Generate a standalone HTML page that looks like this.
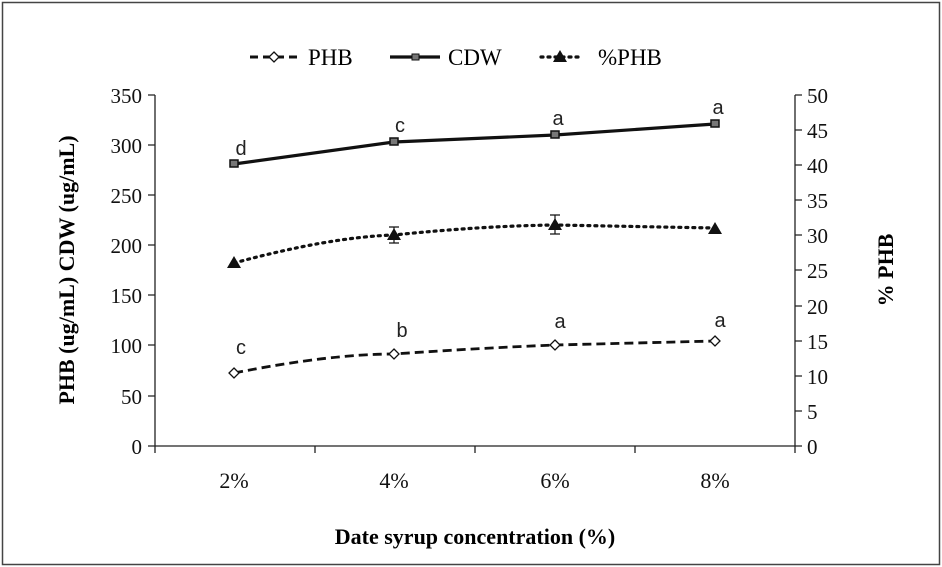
<!DOCTYPE html><html><head><style>body{margin:0;background:#fff}svg{display:block}</style></head><body>
<svg width="942" height="567" xmlns="http://www.w3.org/2000/svg" font-family="Liberation Serif, serif">
<rect x="2.5" y="2.5" width="937" height="562" fill="none" stroke="#444" stroke-width="1.5"/>
<g stroke="#222" stroke-width="1.3" fill="none">
<line x1="155" y1="95" x2="155" y2="446"/><line x1="795" y1="95" x2="795" y2="446"/>
<line x1="155" y1="446" x2="795" y2="446"/>
<path d="M148 95H155M148 145H155M148 195H155M148 245H155M148 295H155M148 345H155M148 396H155M148 446H155"/>
<path d="M795 95H802M795 130H802M795 165H802M795 200H802M795 235H802M795 270H802M795 306H802M795 341H802M795 376H802M795 411H802M795 446H802"/>
<path d="M155 446V453M315 446V453M475 446V453M635 446V453M795 446V453"/>
</g>
<g font-size="21" fill="#111" text-anchor="end">
<text x="142" y="103">350</text><text x="142" y="153">300</text><text x="142" y="203">250</text><text x="142" y="253">200</text><text x="142" y="303">150</text><text x="142" y="353">100</text><text x="142" y="404">50</text><text x="142" y="454">0</text></g>
<g font-size="21" fill="#111" text-anchor="start">
<text x="807" y="103">50</text><text x="807" y="138">45</text><text x="807" y="173">40</text><text x="807" y="208">35</text><text x="807" y="243">30</text><text x="807" y="278">25</text><text x="807" y="314">20</text><text x="807" y="349">15</text><text x="807" y="384">10</text><text x="807" y="419">5</text><text x="807" y="454">0</text></g>
<g font-size="22" fill="#111" text-anchor="middle">
<text x="234" y="488">2%</text><text x="394" y="488">4%</text><text x="555" y="488">6%</text><text x="715" y="488">8%</text></g>
<text x="475" y="544" font-size="22" font-weight="bold" text-anchor="middle">Date syrup concentration (%)</text>
<text transform="translate(74,270) rotate(-90)" font-size="22" font-weight="bold" text-anchor="middle">PHB (ug/mL)  CDW (ug/mL)</text>
<text transform="translate(893,270) rotate(-90)" font-size="22" font-weight="bold" text-anchor="middle">% PHB</text>
<path d="M234 164L394 142L555 135L715 124" stroke="#111" stroke-width="3.2" fill="none"/>
<g fill="#777" stroke="#111" stroke-width="1.5"><rect x="230" y="160" width="8" height="7"/><rect x="390" y="138" width="8" height="7"/><rect x="551" y="131" width="8" height="7"/><rect x="711" y="120" width="8" height="7"/></g>
<path d="M234 263Q330 237 394 235Q480 226 555 225L715 228" stroke="#111" stroke-width="3.2" stroke-dasharray="2,5" stroke-linecap="round" fill="none"/>
<g stroke="#111" stroke-width="1.2"><path d="M394 227V243M389 227H399M389 243H399M555 215V234M550 215H560M550 234H560M715 224V232"/></g>
<g fill="#111"><path d="M234 256l7 12h-14zM394 228l7 12h-14zM555 218l7 12h-14zM715 222l7 12h-14z"/></g>
<path d="M234 373Q330 354 394 354Q480 348 555 345L715 341" stroke="#111" stroke-width="2.8" stroke-dasharray="9,5" fill="none"/>
<g fill="#fff" stroke="#111" stroke-width="1.3"><path d="M234 368l5 5-5 5-5-5zM394 349l5 5-5 5-5-5zM555 340l5 5-5 5-5-5zM715 336l5 5-5 5-5-5z"/></g>
<g font-family="Liberation Sans, sans-serif" font-size="20" fill="#222" text-anchor="middle">
<text x="241" y="155">d</text><text x="400" y="132">c</text><text x="558" y="125">a</text><text x="718" y="114">a</text>
<text x="241" y="354">c</text><text x="402" y="337">b</text><text x="560" y="328">a</text><text x="720" y="327">a</text></g>
<path d="M250 57H298" stroke="#111" stroke-width="3" stroke-dasharray="8,5"/>
<path d="M274 52l5 5-5 5-5-5z" fill="#fff" stroke="#111" stroke-width="1.3"/>
<text x="308" y="65" font-size="23">PHB</text>
<path d="M390 57H440" stroke="#111" stroke-width="3.2"/><rect x="412" y="54" width="7" height="6" fill="#777" stroke="#111"/>
<text x="448" y="65" font-size="23">CDW</text>
<path d="M541 57H578" stroke="#111" stroke-width="3.2" stroke-dasharray="2,5" stroke-linecap="round"/>
<path d="M560 50l7 12h-14z" fill="#111"/>
<text x="598" y="65" font-size="23">%PHB</text>
</svg></body></html>
